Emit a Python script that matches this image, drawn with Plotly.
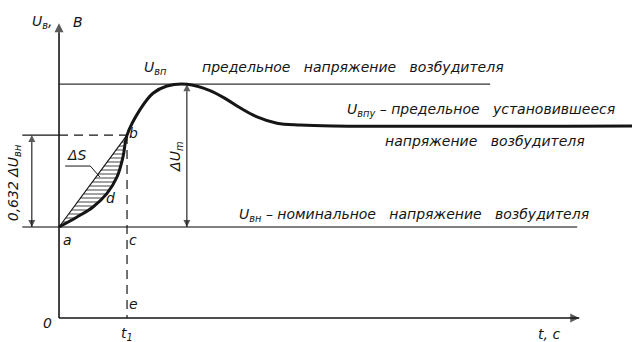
import plotly.graph_objects as go

# ---- data (t in arbitrary time units, U in relative units) ----
t_curve = [0.0, 0.265, 0.50, 0.706, 0.853, 0.941, 1.0, 1.191, 1.382, 1.588, 1.882, 2.221, 2.471, 2.662, 2.912, 3.206, 3.544, 4.029, 8.45]
u_curve = [1.0, 1.11, 1.22, 1.37, 1.55, 1.77, 2.01, 2.29, 2.47, 2.55, 2.57, 2.50, 2.40, 2.31, 2.21, 2.14, 2.12, 2.11, 2.11]
U_nom = 1.0        # номинальное напряжение
U_peak = 2.57      # предельное напряжение
U_steady = 2.11    # предельное установившееся
t1 = 1.0
U_b = 2.01
t_axis_end = 7.65
U_axis_end = 3.24

INK = "#151515"
FONT = dict(family="DejaVu Sans", size=14, color=INK, style="italic")

fig = go.Figure()

def seg(x, y, width=1.2, color=INK, dash=None, shape="linear", symbols=None, msize=8):
    line = dict(color=color, width=width, shape=shape)
    if dash:
        line["dash"] = dash
    kw = {}
    mode = "lines"
    if symbols:
        mode = "lines+markers"
        kw["marker"] = dict(symbol=symbols, size=[0 if s == "circle" else msize for s in symbols],
                            color=color, line=dict(width=0))
    fig.add_trace(go.Scatter(x=x, y=y, mode=mode, line=line, hoverinfo="skip",
                             showlegend=False, **kw))

# hatched area between chord a-b and curve
n_ab = t_curve.index(t1) + 1
fig.add_trace(go.Scatter(
    x=t_curve[:n_ab], y=u_curve[:n_ab], mode="lines", line=dict(width=0, shape="spline"),
    fill="toself", fillcolor="rgba(0,0,0,0)",
    fillpattern=dict(shape="-", size=4, solidity=0.4, fgcolor=INK, bgcolor="rgba(0,0,0,0)"),
    hoverinfo="skip", showlegend=False))
# chord a-b
seg([0, t1], [U_nom, U_b])

# reference lines
seg([0, 6.34], [U_peak, U_peak], width=1.3, color="#333")
seg([-0.54, 7.62], [U_nom, U_nom], width=1.6, color="#555")
seg([-0.54, 0], [U_b, U_b])
seg([0, t1], [U_b, U_b], dash="9px,6px")
seg([t1, t1], [U_b, 0], dash="9px,6px")

# axes with arrows
seg([0, 0], [0, U_axis_end], width=1.6, symbols=["circle", "arrow-up"], msize=9)
seg([0, t_axis_end], [0, 0], width=1.6, symbols=["circle", "arrow-right"], msize=9)
# dimension arrows
seg([-0.40, -0.40], [U_nom, U_b], width=1.1, symbols=["arrow-down", "arrow-up"], msize=7)
seg([1.88, 1.88], [U_nom, U_peak], width=1.1, symbols=["arrow-down", "arrow-up"], msize=7)

# main curve
seg(t_curve, u_curve, width=3, shape="spline")

# ΔS leader
seg([0.09, 0.46, 0.60], [1.67, 1.67, 1.55], width=1)

ann = []
def label(text, x, y, angle=0, size=14):
    f = dict(FONT); f["size"] = size
    ann.append(dict(x=x, y=y, xref="x", yref="y", text=text, showarrow=False,
                    font=f, textangle=angle, xanchor="center", yanchor="middle"))

label("U<sub>в</sub>,", -0.25, 3.25)
label("В", 0.28, 3.25)
label("0", -0.17, -0.05)
label("t, c", 7.2, -0.18)
label("t<sub>1</sub>", 1.0, -0.18)
label("a", 0.13, 0.86)
label("c", 1.09, 0.86)
label("e", 1.09, 0.15)
label("b", 1.10, 2.03)
label("d", 0.75, 1.32)
label("ΔS", 0.27, 1.79)
label("U<sub>вп</sub>", 1.42, 2.75)
label("предельное   напряжение   возбудителя", 4.33, 2.76)
label("U<sub>впу</sub> – предельное   установившееся", 6.2, 2.29)
label("напряжение   возбудителя", 6.26, 1.95)
label("U<sub>вн</sub> – номинальное   напряжение   возбудителя", 5.22, 1.13)
label("0,632 ΔU<sub>вн</sub>", -0.65, 1.49, angle=-90)
label("ΔU<sub>m</sub>", 1.72, 1.77, angle=-90)

fig.update_layout(
    width=632, height=342, margin=dict(l=0, r=0, t=0, b=0),
    paper_bgcolor="white", plot_bgcolor="white",
    xaxis=dict(range=[-0.868, 8.426], visible=False, fixedrange=True),
    yaxis=dict(range=[-0.264, 3.495], visible=False, fixedrange=True),
    annotations=ann, showlegend=False,
)
fig.write_html("out.html", config={"displayModeBar": False},
               post_script="document.body.style.margin='0';document.body.style.overflow='hidden';")
